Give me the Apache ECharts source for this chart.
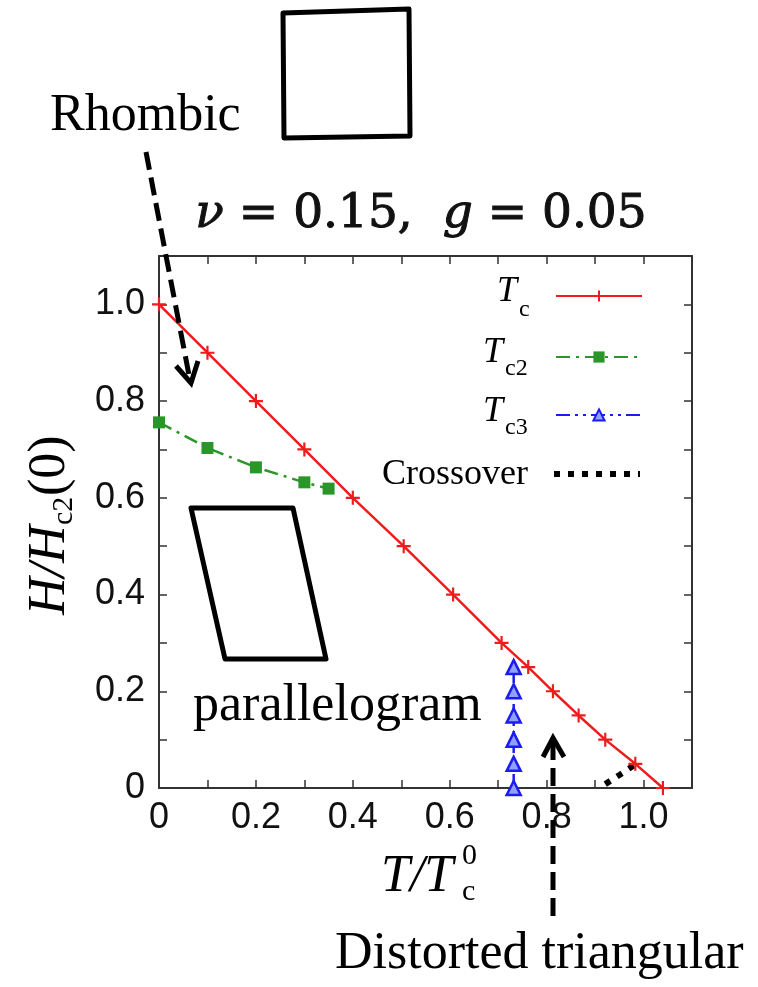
<!DOCTYPE html>
<html>
<head>
<meta charset="utf-8">
<script src="https://cdn.jsdelivr.net/npm/echarts@6/dist/echarts.min.js"></script>
<style>
  html, body { margin: 0; padding: 0; background: #ffffff; }
  #chart { width: 758px; height: 987px; }
</style>
</head>
<body>
<div id="chart"></div>
<script>
// Upper critical field curves: H/Hc2(0) versus T/Tc0
const tcT = [0, 0.10, 0.20, 0.30, 0.40, 0.505, 0.607, 0.707, 0.762, 0.813, 0.866, 0.921, 0.983, 1.04];
const tcH = [1.0, 0.9, 0.8, 0.7, 0.6, 0.5, 0.4, 0.3, 0.25, 0.2, 0.15, 0.1, 0.05, 0];

const tc2T = [0, 0.1, 0.2, 0.3, 0.35];
const tc2H = [0.756, 0.703, 0.663, 0.632, 0.619];

const tc3T = [0.732, 0.732, 0.732, 0.732, 0.732, 0.732];
const tc3H = [0, 0.05, 0.1, 0.15, 0.2, 0.25];

const crossT = [0.921, 0.952, 0.985];
const crossH = [0.008, 0.028, 0.05];

const tickLabels = ['0', '0.2', '0.4', '0.6', '0.8', '1.0'];

const pairs = (xs, ys) => xs.map((x, i) => [x, ys[i]]);

const RED = '#ee1c1c', GREEN = '#2a962a', BLUE = '#1c1cf0';
const SERIF = '"Liberation Serif", "Times New Roman", serif';
const SANS = '"Liberation Sans", Arial, sans-serif';

const tickFmt = v => {
  const k = Math.round(v * 10);
  return (k % 2 === 0 && k <= 10) ? tickLabels[k / 2] : '';
};

const axisBase = {
  type: 'value', min: 0, max: 1.1, interval: 0.1,
  axisLine: { show: true, onZero: false, lineStyle: { color: '#333', width: 2 } },
  axisTick: { show: true, inside: true, length: 8, lineStyle: { color: '#333', width: 1.5 } },
  splitLine: { show: false }
};

const chart = echarts.init(document.getElementById('chart'), null, { renderer: 'canvas' });

const legendAt = (name, top, extra) => Object.assign({
  data: [name], orient: 'vertical', right: 115, top: top, padding: 0,
  align: 'right', itemWidth: 86, itemHeight: 14, itemGap: 0,
  formatter: () => '', selectedMode: false,
  textStyle: { fontSize: 1 }
}, extra || {});

const txt = (text, x, y, size, opts) => Object.assign({
  type: 'text', x: x, y: y, z: 50,
  style: Object.assign({
    text: text, fill: '#000', font: size + 'px ' + SERIF,
    align: 'left', verticalAlign: 'middle'
  }, opts || {})
});

const italic = (size) => 'italic ' + size + 'px ' + SERIF;

chart.setOption({
  backgroundColor: '#ffffff',
  animation: false,
  grid: { left: 159, top: 256, width: 533, height: 532, containLabel: false },
  xAxis: [
    Object.assign({}, axisBase, {
      position: 'bottom',
      axisLabel: { formatter: tickFmt, margin: 12, fontFamily: SANS, fontSize: 36, color: '#111', showMaxLabel: true }
    }),
    Object.assign({}, axisBase, { position: 'top', axisLabel: { show: false } })
  ],
  yAxis: [
    Object.assign({}, axisBase, {
      position: 'left',
      axisLabel: { formatter: tickFmt, margin: 14, fontFamily: SANS, fontSize: 36, color: '#111' }
    }),
    Object.assign({}, axisBase, { position: 'right', axisLabel: { show: false } })
  ],
  legend: [
    legendAt('Tc', 289),
    legendAt('Tc2', 350),
    legendAt('Tc3', 408),
    legendAt('Crossover', 467, {
      itemStyle: { opacity: 0 },
      lineStyle: { color: '#000', width: 6, type: [6, 8], cap: 'butt' }
    })
  ],
  series: [
    {
      name: 'Tc', type: 'line', data: pairs(tcT, tcH),
      symbol: 'path://M5,0L5,10M0,5L10,5', symbolSize: 14, symbolKeepAspect: true,
      lineStyle: { color: RED, width: 2.5 },
      itemStyle: { color: RED, borderColor: RED, borderWidth: 2.2 },
      z: 5
    },
    {
      name: 'Tc2', type: 'line', data: pairs(tc2T, tc2H),
      symbol: 'rect', symbolSize: 12,
      lineStyle: { color: GREEN, width: 2.5, type: [14, 6, 3, 6] },
      itemStyle: { color: GREEN, borderWidth: 0 },
      z: 4
    },
    {
      name: 'Tc3', type: 'line', data: pairs(tc3T, tc3H),
      symbol: 'triangle', symbolSize: 14,
      lineStyle: { color: BLUE, width: 2.5, type: [14, 5, 3, 5, 3, 5] },
      itemStyle: { color: '#8fa0ff', borderColor: BLUE, borderWidth: 2.5 },
      z: 4
    },
    {
      name: 'Crossover', type: 'line', data: pairs(crossT, crossH),
      symbol: 'none', showSymbol: false,
      lineStyle: { color: '#000', width: 6, type: [6, 8], cap: 'butt' },
      itemStyle: { color: '#000' },
      z: 3
    }
  ],
  graphic: [
    // parameters above the frame
    {
      type: 'text', x: 421, y: 215, z: 50,
      style: {
        text: '{i|\u03bd} = 0.15,  {i|g} = 0.05',
        font: '47px "DejaVu Serif", serif', fill: '#111',
        stroke: '#111', lineWidth: 1,
        align: 'center', verticalAlign: 'middle',
        rich: { i: { font: 'italic 47px "DejaVu Serif", serif', fill: '#111' } }
      }
    },
    // legend labels
    txt('T', 517, 292, 36, { font: italic(36), align: 'right' }),
    txt('c', 519, 310, 24),
    txt('T', 503, 353, 36, { font: italic(36), align: 'right' }),
    txt('c2', 505, 369, 24),
    txt('T', 503, 412, 36, { font: italic(36), align: 'right' }),
    txt('c3', 505, 428, 24),
    txt('Crossover', 528, 475, 36, { align: 'right' }),
    // x axis title
    txt('T/T', 381, 877, 52, { font: italic(52) }),
    txt('0', 462, 856, 30),
    txt('c', 462, 892, 30),
    // y axis title
    {
      type: 'group', x: 50, y: 523, rotation: Math.PI / 2, z: 50,
      children: [
        txt('H/H', -92, 0, 52, { font: italic(52) }),
        txt('c2', -2, 14, 30),
        txt('(0)', 27, 0, 52)
      ]
    },
    // annotations
    txt('Rhombic', 50, 116, 52),
    txt('parallelogram', 193, 706, 52),
    txt('Distorted triangular', 335, 954, 52),
    {
      type: 'polygon', z: 40,
      shape: { points: [[283, 13], [409, 9], [410, 136], [284, 138]] },
      style: { fill: 'none', stroke: '#000', lineWidth: 5, lineJoin: 'round' }
    },
    {
      type: 'polygon', z: 40,
      shape: { points: [[191, 508], [293, 508], [326, 659], [225, 659]] },
      style: { fill: 'none', stroke: '#000', lineWidth: 5, lineJoin: 'round' }
    },
    {
      type: 'line', z: 40,
      shape: { x1: 146, y1: 152, x2: 189, y2: 375 },
      style: { stroke: '#000', lineWidth: 5, lineDash: [18, 8] }
    },
    {
      type: 'polyline', z: 40,
      shape: { points: [[176, 366], [191, 383], [198, 361]] },
      style: { stroke: '#000', lineWidth: 5, fill: 'none' }
    },
    {
      type: 'line', z: 40,
      shape: { x1: 553, y1: 916, x2: 553, y2: 742 },
      style: { stroke: '#000', lineWidth: 5, lineDash: [18, 8] }
    },
    {
      type: 'polyline', z: 40,
      shape: { points: [[543, 757], [553, 738], [564, 757]] },
      style: { stroke: '#000', lineWidth: 5, fill: 'none' }
    }
  ]
});
</script>
</body>
</html>
